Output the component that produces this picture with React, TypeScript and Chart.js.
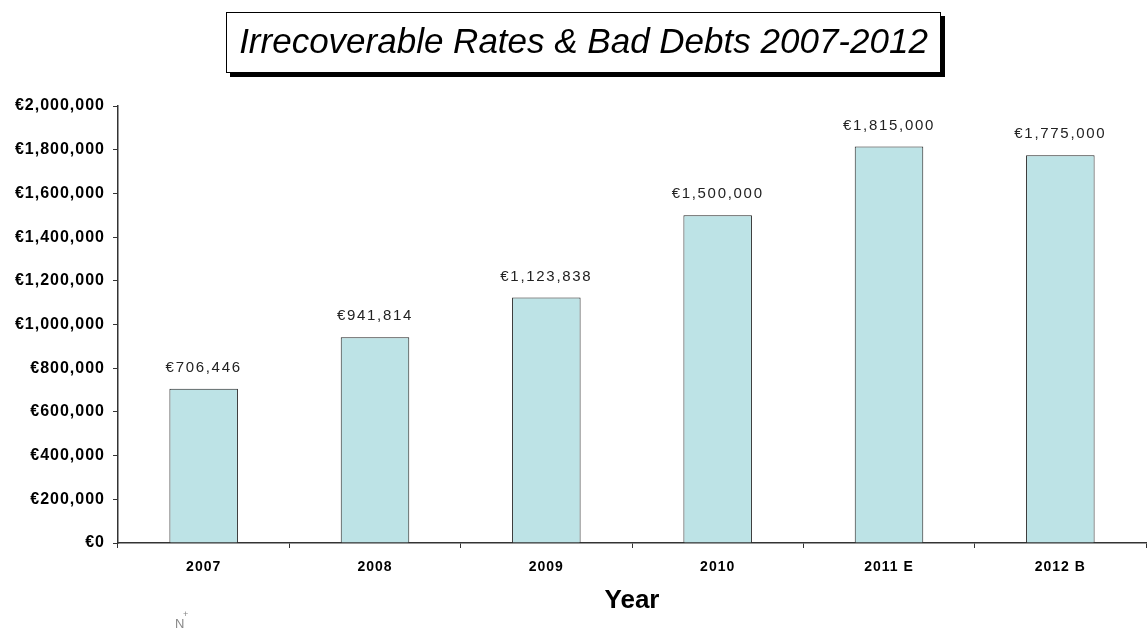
import React, { useEffect, useRef } from "react";
import { Chart, registerables } from "chart.js";

Chart.register(...registerables);

const categories: string[] = ["2007", "2008", "2009", "2010", "2011 E", "2012 B"];
const values: number[] = [706446, 941814, 1123838, 1500000, 1815000, 1775000];
const yMin = 0;
const yMax = 2000000;
const yStep = 200000;
const chartTitle = "Irrecoverable Rates & Bad Debts 2007-2012";
const xTitle = "Year";

const fmt = (v: number) => "€" + Math.round(v).toLocaleString("en-US");

const FONT = "'Liberation Sans', Arial, sans-serif";

const decorPlugin = {
  id: "decor",
  beforeDraw(chart: any) {
    (chart.ctx as any).letterSpacing = "1px";
  },
  afterDraw(chart: any) {
    const ctx = chart.ctx as CanvasRenderingContext2D;
    ctx.save();
    (ctx as any).letterSpacing = "0px";
    // Title box with shadow
    const bx = 226, by = 12, bw = 715, bh = 61;
    ctx.fillStyle = "#000";
    ctx.fillRect(bx + 4, by + 4, bw, bh);
    ctx.fillStyle = "#fff";
    ctx.fillRect(bx, by, bw, bh);
    ctx.strokeStyle = "#000";
    ctx.lineWidth = 1;
    ctx.strokeRect(bx + 0.5, by + 0.5, bw - 1, bh - 1);
    ctx.fillStyle = "#000";
    ctx.font = `italic 35px ${FONT}`;
    ctx.textAlign = "center";
    ctx.textBaseline = "middle";
    ctx.fillText(chartTitle, bx + bw / 2, by + bh / 2 + 1);

    // Data labels
    const meta = chart.getDatasetMeta(0);
    ctx.font = `15px ${FONT}`;
    (ctx as any).letterSpacing = "1.7px";
    ctx.fillStyle = "#222";
    meta.data.forEach((el: any, i: number) => {
      ctx.fillText(fmt(values[i]), el.x, el.y - 21);
    });
    (ctx as any).letterSpacing = "0px";

    // X axis title
    const area = chart.chartArea;
    ctx.font = `bold 26px ${FONT}`;
    ctx.fillStyle = "#000";
    ctx.fillText(xTitle, (area.left + area.right) / 2, 601);

    // small cursor mark
    ctx.font = `13px ${FONT}`;
    ctx.fillStyle = "#888";
    ctx.textAlign = "left";
    ctx.fillText("N", 175, 624);
    ctx.font = `9px ${FONT}`;
    ctx.fillText("+", 183, 615);
    ctx.restore();
    (ctx as any).letterSpacing = "0px";
  },
};

export default function App() {
  const ref = useRef<HTMLCanvasElement | null>(null);
  useEffect(() => {
    if (!ref.current) return;
    const chart = new Chart(ref.current, {
      type: "bar",
      data: {
        labels: categories,
        datasets: [
          {
            data: values,
            backgroundColor: "#BDE3E6",
            borderColor: "#222",
            borderWidth: 1,
            barPercentage: 0.4,
            categoryPercentage: 1,
          },
        ],
      },
      options: {
        responsive: false,
        animation: false,
        layout: { padding: { top: 106, left: 0, right: 1, bottom: 0 } },
        plugins: {
          legend: { display: false },
          title: { display: false },
          tooltip: { enabled: false },
        },
        scales: {
          x: {
            grid: {
              drawOnChartArea: false,
              drawTicks: true,
              tickLength: 5,
              offset: true,
              color: "#333",
            },
            border: { color: "#333", width: 1.5 },
            ticks: {
              color: "#000",
              font: { family: FONT, size: 14, weight: "bold" },
              padding: 11,
              maxRotation: 0,
            },
            afterFit(scale: any) {
              scale.height = 89;
            },
          },
          y: {
            min: yMin,
            max: yMax,
            grid: {
              drawOnChartArea: false,
              drawTicks: true,
              tickLength: 5,
              color: "#333",
            },
            border: { color: "#333", width: 1.5 },
            ticks: {
              stepSize: yStep,
              color: "#000",
              font: { family: FONT, size: 16, weight: "bold" },
              padding: 8,
              callback: (v: any) => fmt(Number(v)),
            },
            afterFit(scale: any) {
              scale.width = 118;
            },
          },
        },
      },
      plugins: [decorPlugin],
    });
    return () => chart.destroy();
  }, []);
  return (
    <div style={{ position: "fixed", left: 0, top: 0, width: 1147, height: 632, background: "#fff" }}>
      <canvas ref={ref} width={1147} height={632} />
    </div>
  );
}
